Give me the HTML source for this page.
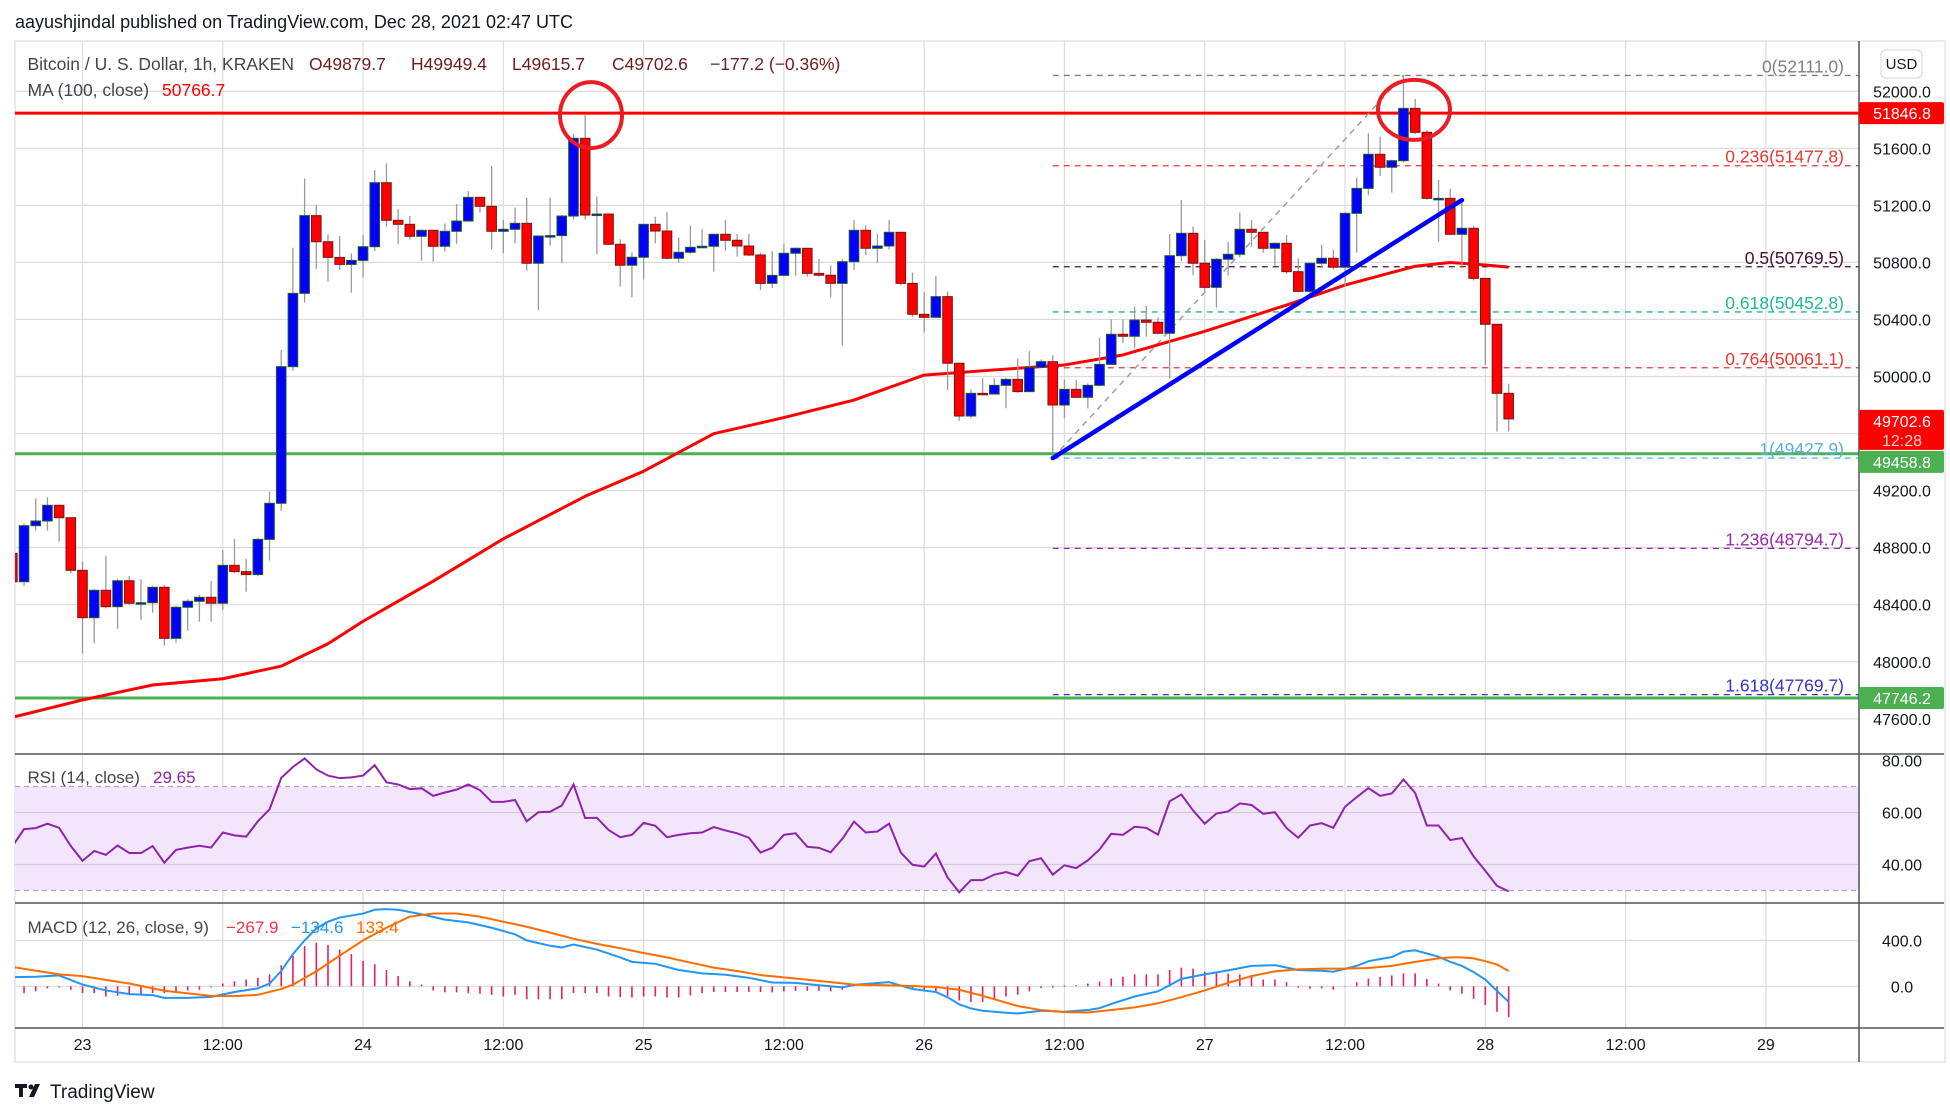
<!DOCTYPE html>
<html><head><meta charset="utf-8">
<style>
html,body{margin:0;padding:0;background:#fff;}
svg{display:block;font-family:"Liberation Sans",sans-serif;}
</style></head>
<body>
<svg id="chart" width="1950" height="1113" viewBox="0 0 1950 1113" xmlns="http://www.w3.org/2000/svg">
<defs>
<clipPath id="cpMain"><rect x="15" y="41" width="1844" height="713"/></clipPath>
<clipPath id="cpRsi"><rect x="15" y="754" width="1844" height="148"/></clipPath>
<clipPath id="cpMacd"><rect x="15" y="903" width="1844" height="125"/></clipPath>
</defs>
<rect x="0" y="0" width="1950" height="1113" fill="#ffffff"/>
<text x="15" y="28" font-size="18" fill="#131722">aayushjindal published on TradingView.com, Dec 28, 2021 02:47 UTC</text>
<rect x="15" y="41" width="1930" height="1021" fill="none" stroke="#e0e3eb" stroke-width="1.5"/>
<g id="grid"></g>
<g id="rsiBand"></g>
<g id="mainLayer" clip-path="url(#cpMain)"></g>
<g id="rsiLayer" clip-path="url(#cpRsi)"></g>
<g id="macdLayer" clip-path="url(#cpMacd)"></g>
<line x1="15" y1="754" x2="1944" y2="754" stroke="#50535e" stroke-width="1.5"/>
<line x1="15" y1="903" x2="1944" y2="903" stroke="#50535e" stroke-width="1.5"/>
<line x1="15" y1="1028" x2="1944" y2="1028" stroke="#50535e" stroke-width="1.5"/>
<line x1="1859" y1="41" x2="1859" y2="1062" stroke="#50535e" stroke-width="1.5"/>
<g id="axisLabels" font-size="16" fill="#131722"></g>
<g id="tags"></g>
<g>
<rect x="1881" y="50" width="41" height="28" rx="5" fill="#fff" stroke="#d1d4dc"/>
<text x="1901.5" y="69" font-size="15" fill="#131722" text-anchor="middle">USD</text>
</g>
<g font-size="17.5">
<text x="27.5" y="70" fill="#434651">Bitcoin / U. S. Dollar, 1h, KRAKEN</text>
<text x="309" y="70" fill="#6e1e1e">O49879.7</text>
<text x="411" y="70" fill="#6e1e1e">H49949.4</text>
<text x="512" y="70" fill="#6e1e1e">L49615.7</text>
<text x="612" y="70" fill="#6e1e1e">C49702.6</text>
<text x="710" y="70" fill="#6e1e1e">−177.2 (−0.36%)</text>
<text x="27.5" y="96" fill="#434651">MA (100, close)</text>
<text x="162" y="96" fill="#ff0000">50766.7</text>
</g>
<g font-size="17">
<text x="27.5" y="783" fill="#434651">RSI (14, close)</text>
<text x="153" y="783" fill="#8e24aa">29.65</text>
</g>
<g font-size="17">
<text x="27.5" y="933" fill="#434651">MACD (12, 26, close, 9)</text>
<text x="226" y="933" fill="#f23645">−267.9</text>
<text x="291" y="933" fill="#2196f3">−134.6</text>
<text x="356" y="933" fill="#ff6d00">133.4</text>
</g>
<g>
<rect x="15" y="1084" width="12" height="4" fill="#131722"/>
<rect x="19" y="1084" width="4" height="13" fill="#131722"/>
<circle cx="31" cy="1087" r="2.5" fill="#131722"/>
<polygon points="35,1084 40,1084 34,1097 29,1097" fill="#131722"/>
<text x="50" y="1098" font-size="19" fill="#131722">TradingView</text>
</g>
</svg>
<script>
// ---------- data ----------
const firstHour = -6;            // hours relative to Dec 23 00:00
const firstOpen = 48760;
const closes = [48561,48954,48987,49097,49010,48641,48309,48501,48386,48568,48410,48414,48522,48164,48382,48424,48452,48410,48676,48632,48611,48858,49111,50069,50583,51128,50945,50835,50786,50814,50910,51359,51095,51067,50983,51025,50913,51018,51090,51256,51193,51018,51032,51074,50794,50985,50988,51125,51670,51132,51139,50927,50780,50836,51067,51020,50829,50871,50906,50913,50997,50955,50915,50852,50653,50709,50864,50899,50723,50710,50653,50805,51025,50899,50915,51011,50653,50436,50415,50560,50093,49723,49882,49877,49938,49980,49894,50064,50104,49800,49910,49854,49938,50085,50296,50282,50396,50380,50303,50847,51004,50794,50625,50822,50857,51032,51011,50899,50934,50735,50597,50794,50829,50766,51144,51319,51558,51467,51513,51880,51712,51249,51249,50997,51039,50688,50366,49882,49702.6];
const highs = [48800,48970,49146,49153,49097,49010,48702,48510,48741,48580,48601,48578,48530,48536,48391,48438,48468,48566,48783,48861,48720,48870,49192,50186,50903,51389,51202,50997,50985,50863,50992,51448,51494,51174,51125,51030,51025,51074,51209,51300,51256,51476,51097,51184,51254,50990,51254,51132,51700,51834,51261,51144,50962,50870,51070,51121,51153,50974,51058,51034,51000,51097,50999,50999,50868,50880,50929,50905,50899,50824,50777,50822,51097,51060,50999,51097,51011,50728,50593,50705,50595,50093,49910,49987,49987,49990,50127,50179,50120,50149,49976,49976,49952,50272,50401,50401,50490,50494,50415,50999,51238,51051,50957,50830,50943,51149,51097,51011,50940,50992,50829,50800,50924,50887,51150,51394,51705,51682,51520,52114,51946,51728,51378,51315,51238,51058,50688,50366,49949.4];
const lows = [48500,48533,48919,48919,48842,48620,48059,48129,48375,48232,48400,48293,48344,48113,48134,48218,48281,48281,48363,48620,48491,48600,48709,49059,50040,50518,50754,50665,50747,50588,50693,50880,51050,50930,50960,50812,50805,50877,50931,51088,51149,50891,50864,50934,50742,50466,50917,50794,51100,51100,50857,50922,50630,50555,50681,50934,50820,50798,50860,50900,50735,50882,50840,50845,50607,50620,50700,50707,50700,50700,50555,50216,50747,50852,50798,50890,50640,50420,50310,50408,49905,49690,49707,49870,49920,49777,49885,49890,50060,49450,49707,49850,49777,49930,50080,50233,50198,50279,50295,49987,50810,50712,50600,50483,50707,50836,50910,50868,50777,50720,50590,50583,50759,50750,50630,50868,51273,51406,51289,51499,51700,51240,50945,50990,50770,50672,50081,49613,49615.7];
const maHours = [-6,0,6,12,17,21,24,30,36,43,48,54,60,66,72,78,84,89,96,103,108,114,117,120,122];
const maValues = [47610,47732,47837,47881,47969,48126,48284,48565,48862,49160,49336,49599,49712,49835,50010,50046,50081,50151,50317,50501,50641,50773,50799,50782,50767];
const rsiValues = [47.0,53.6,54.0,55.7,54.1,47.1,41.4,45.2,43.7,47.3,44.4,44.4,47.1,40.7,45.6,46.5,47.2,46.5,52.3,51.2,50.7,56.6,61.2,73.3,77.5,80.8,76.6,74.2,73.2,73.5,74.2,78.2,71.6,70.8,69.0,69.3,66.4,67.7,68.8,70.8,68.6,64.1,64.1,64.8,56.6,60.1,60.3,62.7,70.8,57.9,58.0,53.3,50.5,51.4,56.0,54.9,50.5,51.4,52.0,52.3,54.4,53.1,52.0,50.3,44.6,46.4,51.4,52.0,46.8,46.4,44.7,49.9,56.5,52.3,52.7,55.7,44.6,39.9,39.2,44.2,35.0,29.3,34.0,34.0,36.1,37.1,35.7,41.3,42.4,36.1,39.7,38.6,41.6,45.8,51.8,51.4,54.5,54.1,51.5,64.3,66.9,60.8,55.7,59.6,60.4,63.5,62.9,59.5,60.1,54.0,50.3,55.0,55.9,54.1,62.2,65.9,69.4,66.4,67.3,72.7,67.5,55.0,55.0,49.4,50.2,43.1,37.6,31.8,29.65];
const histValues = [-50,-59,-44,-18,-9,-30,-59,-59,-89,-83,-74,-65,-59,-59,-44,-36,-30,-9,24,44,59,74,104,184,267,350,379,361,320,281,222,193,142,89,44,15,-36,-53,-53,-59,-65,-74,-89,-74,-113,-113,-113,-113,-59,-59,-59,-89,-95,-98,-89,-89,-98,-98,-80,-59,-50,-50,-50,-50,-50,-53,-44,-39,-39,-39,-44,-30,9,0,0,9,0,-24,-30,-50,-83,-124,-136,-136,-110,-89,-74,-44,-15,-12,9,9,24,41,68,83,104,104,104,142,163,154,127,119,110,104,89,59,59,36,-12,-21,-18,-30,-3,36,68,83,95,113,113,65,24,-36,-65,-110,-163,-222,-267.9];
const macdHours = [-6,-4,-2,0,2,4,6,7,9,11,13,15,16,17,18,19,20,21,22,24,25,26,27,29,31,33,35,37,38,40,41,42,44,46,47,49,51,53,55,57,59,61,63,65,66,69,71,73,74,75,76,77,79,80,82,84,86,87,88,90,92,93,94,96,98,100,102,104,106,107,109,110,112,113,114,116,117,118,119,120,121,122];
const macdValues = [80,83,95,15,-36,-68,-77,-101,-101,-92,-50,-18,24,133,281,400,504,563,599,634,667,673,667,628,581,557,510,453,400,353,338,364,320,252,213,196,142,113,101,74,33,30,9,-9,12,36,-24,-50,-95,-157,-193,-213,-231,-237,-213,-222,-207,-190,-154,-89,-44,9,65,104,139,178,184,142,136,127,178,219,255,302,314,258,213,178,124,59,-41,-134.6];
const signalHours = [-6,-2,0,4,7,11,13,15,17,18,20,22,24,26,28,30,32,34,36,38,40,42,44,46,48,50,52,54,56,58,61,64,66,70,73,75,77,80,82,84,86,88,90,92,94,96,98,100,102,104,106,108,110,112,114,116,117,118,119,120,121,122];
const signalValues = [169,104,89,24,-39,-83,-86,-74,-24,15,130,267,400,510,607,634,634,607,563,519,468,415,370,332,290,252,207,163,133,98,68,36,15,6,-6,-30,-83,-172,-207,-225,-228,-207,-184,-148,-95,-36,30,89,130,148,154,154,160,178,213,243,252,252,243,219,190,133.4];
const priceTicks = [52000,51600,51200,50800,50400,50000,49600,49200,48800,48400,48000,47600];
const priceTickLabels = ["52000.0","51600.0","51200.0","50800.0","50400.0","50000.0","","49200.0","48800.0","48400.0","48000.0","47600.0"];
const timeTickHours = [0,12,24,36,48,60,72,84,96,108,120,132,144];
const timeTickLabels = ["23","12:00","24","12:00","25","12:00","26","12:00","27","12:00","28","12:00","29"];
const rsiTicks = [80,60,40];
const macdTicks = [400,0];
const fibRatios = ["0","0.236","0.5","0.618","0.764","1","1.236","1.618"];
const fibPrices = [52111.0,51477.8,50769.5,50452.8,50061.1,49427.9,48794.7,47769.7];
const fibColors = ["#808080","#e53935","#4a1030","#22b892","#e53935","#5aaee0","#9c27b0","#3535c8"];
const fibStartHour = 83;
const resistanceLevel = 51846.8;
const supportLevels = [49458.8,47746.2];
const lastPrice = 49702.6;
const trendStart = [83,49427.9], trendEnd = [118,51237];
const fibAnchorLow = [83,49427.9], fibAnchorHigh = [113,52111];
const circleMarks = [[43.5,51833],[113.9,51869]];

// ---------- scales ----------
const NS = "http://www.w3.org/2000/svg";
const xOf = h => 82.5 + h * 11.69;
const yP = p => 91.25 + (52000 - p) * 0.142625;
const yR = r => 812.5 - (r - 60) * 2.6;
const yM = v => 986.3 - v * 0.11475;
function mk(parent, tag, attrs, text) {
  const el = document.createElementNS(NS, tag);
  for (const k in attrs) el.setAttribute(k, attrs[k]);
  if (text !== undefined) el.textContent = text;
  parent.appendChild(el);
  return el;
}
const grid = document.getElementById('grid');
const main = document.getElementById('mainLayer');
const rsiL = document.getElementById('rsiLayer');
const macdL = document.getElementById('macdLayer');
const band = document.getElementById('rsiBand');
const ax = document.getElementById('axisLabels');
const tags = document.getElementById('tags');

// grid
timeTickHours.forEach((h, i) => {
  const ln = mk(grid, 'line', {x1: xOf(h), y1: 41, x2: xOf(h), y2: 1028, stroke: '#dcdcdc', 'stroke-width': 1.2});
  
  
  if (xOf(h) < 1859) {
    const t = mk(ax, 'text', {x: xOf(h), y: 1050, 'text-anchor': 'middle'}, timeTickLabels[i]);
    
    
  }
});
priceTicks.forEach((p, i) => {
  const ln = mk(grid, 'line', {x1: 15, y1: yP(p), x2: 1859, y2: yP(p), stroke: '#dcdcdc', 'stroke-width': 1.2});
  
  
  if (priceTickLabels[i]) {
    const t = mk(ax, 'text', {x: 1902, y: yP(p) + 6, 'text-anchor': 'middle'}, priceTickLabels[i]);
    
    
  }
});
// RSI band
const bandRect = mk(band, 'rect', {x: 15, y: yR(70), width: 1844, height: yR(30) - yR(70), fill: '#f3e6fc'});


[70, 30].forEach(v => {
  const ln = mk(band, 'line', {x1: 15, y1: yR(v), x2: 1859, y2: yR(v), stroke: '#b2a5c0', 'stroke-dasharray': '5,4', 'stroke-width': 1.2});
  
  
});
rsiTicks.forEach(v => {
  if (v !== 80) {
    const ln = mk(band, 'line', {x1: 15, y1: yR(v), x2: 1859, y2: yR(v), stroke: '#d4cadc', 'stroke-width': 1.2});
    
    
  }
  const t = mk(ax, 'text', {x: 1902, y: yR(v) + 6, 'text-anchor': 'middle'}, v.toFixed(2));
  
  
});
macdTicks.forEach(v => {
  const ln = mk(band, 'line', {x1: 15, y1: yM(v), x2: 1859, y2: yM(v), stroke: '#dcdcdc', 'stroke-width': 1.2});
  
  
  const t = mk(ax, 'text', {x: 1902, y: yM(v) + 6, 'text-anchor': 'middle'}, v.toFixed(1));
  
  
});

// horizontal levels
const res = mk(main, 'line', {x1: 15, y1: yP(resistanceLevel), x2: 1859, y2: yP(resistanceLevel), stroke: '#ff0000', 'stroke-width': 3});


supportLevels.forEach(p => {
  const ln = mk(main, 'line', {x1: 15, y1: yP(p), x2: 1859, y2: yP(p), stroke: '#4caf50', 'stroke-width': 3});
  
  
});
// fib levels
fibPrices.forEach((p, i) => {
  const ln = mk(main, 'line', {x1: xOf(fibStartHour), y1: yP(p), x2: 1859, y2: yP(p), stroke: fibColors[i], 'stroke-dasharray': '6,5', 'stroke-width': 1.3});
  
  
  const t = mk(main, 'text', {x: 1844, y: yP(p) - 3, 'text-anchor': 'end', 'font-size': 17.5, fill: fibColors[i]}, fibRatios[i] + '(' + p.toFixed(1) + ')');
  
  
});
const diag = mk(main, 'line', {x1: xOf(fibAnchorLow[0]), y1: yP(fibAnchorLow[1]), x2: xOf(fibAnchorHigh[0]), y2: yP(fibAnchorHigh[1]), stroke: '#9e9e9e', 'stroke-dasharray': '6,5', 'stroke-width': 1.5});



// MA line
let maPts = maHours.map((h, i) => xOf(h) + ',' + yP(maValues[i])).join(' ');
const ma = mk(main, 'polyline', {points: maPts, fill: 'none', stroke: '#ff0000', 'stroke-width': 3, 'stroke-linejoin': 'round'});



// candles
closes.forEach((c, i) => {
  const h = firstHour + i;
  const o = i === 0 ? firstOpen : closes[i - 1];
  const up = c >= o;
  const x = xOf(h);
  const g = mk(main, 'g', {});
  
  
  mk(g, 'line', {x1: x, y1: yP(highs[i]), x2: x, y2: yP(lows[i]), stroke: '#9a9a9a', 'stroke-width': 1.3});
  const top = yP(Math.max(o, c)), bot = yP(Math.min(o, c));
  mk(g, 'rect', {x: x - 4.8, y: top, width: 9.6, height: Math.max(1.5, bot - top), fill: up ? '#0000ff' : '#ff0000', stroke: up ? '#1e5b2a' : '#7a1515', 'stroke-width': 1});
});

// trendline
const tl = mk(main, 'line', {x1: xOf(trendStart[0]), y1: yP(trendStart[1]), x2: xOf(trendEnd[0]), y2: yP(trendEnd[1]), stroke: '#0000ff', 'stroke-width': 4.5, 'stroke-linecap': 'round'});


// circles
circleMarks.forEach((m, i) => {
  const e = mk(main, 'ellipse', {cx: xOf(m[0]), cy: yP(m[1]), rx: i === 0 ? 31 : 36, ry: i === 0 ? 33 : 30, fill: 'none', stroke: '#ec1c24', 'stroke-width': 4});
  
  
});

// RSI
let rPts = rsiValues.map((v, i) => xOf(firstHour + i) + ',' + yR(v)).join(' ');
const rl = mk(rsiL, 'polyline', {points: rPts, fill: 'none', stroke: '#8e24aa', 'stroke-width': 2});



// MACD
histValues.forEach((v, i) => {
  const x = xOf(firstHour + i);
  const b = mk(macdL, 'line', {x1: x, y1: yM(0), x2: x, y2: yM(v), stroke: '#e91e63', 'stroke-width': 1.6});
  
  
});
let mPts = macdHours.map((h, i) => xOf(h) + ',' + yM(macdValues[i])).join(' ');
const ml = mk(macdL, 'polyline', {points: mPts, fill: 'none', stroke: '#2196f3', 'stroke-width': 2});


let sPts = signalHours.map((h, i) => xOf(h) + ',' + yM(signalValues[i])).join(' ');
const sl = mk(macdL, 'polyline', {points: sPts, fill: 'none', stroke: '#ff6d00', 'stroke-width': 2});



// price tags
function tag(y, h, color, lines, name) {
  const g = mk(tags, 'g', {});
  
  
  mk(g, 'rect', {x: 1859, y: y, width: 85, height: h, rx: 2, fill: color});
  lines.forEach((t, k) => mk(g, 'text', {x: 1902, y: y + 17 + k * 19, 'text-anchor': 'middle', 'font-size': 16, fill: k ? '#ffd0d0' : '#ffffff'}, t));
}
tag(yP(resistanceLevel) - 11, 22, '#ff0000', [resistanceLevel.toFixed(1)], 'resistance-price-tag');
tag(yP(lastPrice) - 9, 40, '#ff0000', [lastPrice.toFixed(1), '12:28'], 'last-price-tag');
tag(yP(lastPrice) + 32, 22, '#4caf50', [supportLevels[0].toFixed(1)], 'support-price-tag');
tag(yP(supportLevels[1]) - 11, 22, '#4caf50', [supportLevels[1].toFixed(1)], 'support-price-tag-2');
</script>
</body></html>
